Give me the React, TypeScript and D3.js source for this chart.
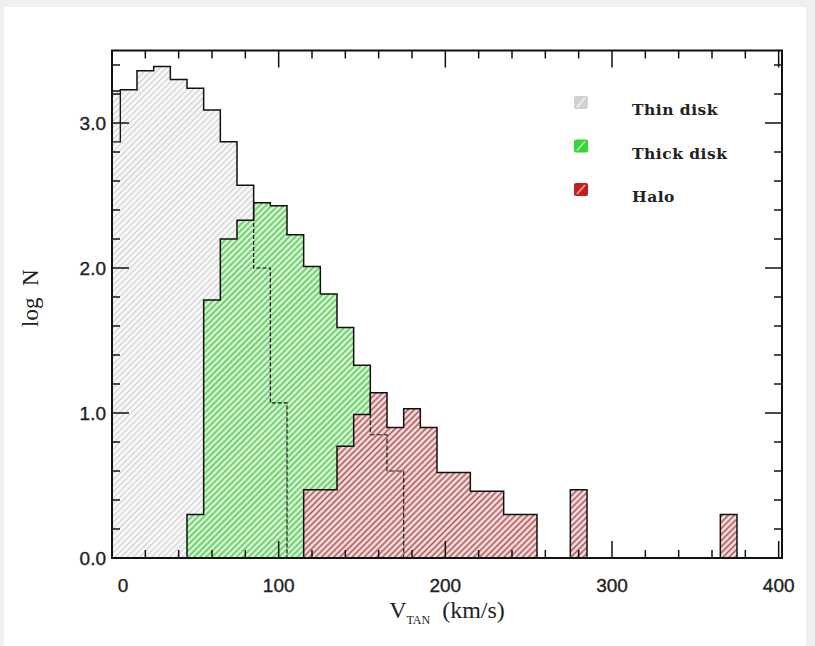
import React from "react";
import * as d3 from "d3";

// ---- data (bin centres in km/s, bin width 10 km/s; values are log N) ----
const binWidth = 10;
const thinDiskV = [0, 10, 20, 30, 40, 50, 60, 70, 80, 90, 100];
const thinDiskLogN = [3.22, 3.23, 3.36, 3.39, 3.3, 3.24, 3.09, 2.87, 2.57, 2.0, 1.07];
const thinDiskInnerStep = { v: 0, logN: 2.87 };

const thickDiskV = [50, 60, 70, 80, 90, 100, 110, 120, 130, 140, 150, 160, 170];
const thickDiskLogN = [0.3, 1.78, 2.2, 2.33, 2.45, 2.43, 2.23, 2.01, 1.82, 1.59, 1.33, 0.85, 0.6];

const haloV = [120, 130, 140, 150, 160, 170, 180, 190, 200, 210, 220, 230, 240, 250, 280, 370];
const haloLogN = [0.47, 0.47, 0.77, 0.99, 1.14, 0.9, 1.03, 0.9, 0.59, 0.59, 0.46, 0.46, 0.3, 0.3, 0.47, 0.3];

const xMajorTicks = [0, 100, 200, 300, 400];
const xTickLabels = ["0", "100", "200", "300", "400"];
const yMajorTicks = [0, 1, 2, 3];
const yTickLabels = ["0.0", "1.0", "2.0", "3.0"];
const legendLabels = ["Thin disk", "Thick disk", "Halo"];

const W = 815;
const H = 646;
const M = { left: 112, right: 782, top: 50.5, bottom: 558 };

const x = d3.scaleLinear().domain([0, 402]).range([M.left, M.right]);
const y = d3.scaleLinear().domain([0, 3.5]).range([M.bottom, M.top]);

function histPath(vs: number[], ns: number[]): string {
  const runs: { v: number; n: number }[][] = [];
  vs.forEach((v, i) => {
    const last = runs[runs.length - 1];
    if (last && Math.abs(v - last[last.length - 1].v - binWidth) < 1e-6) last.push({ v, n: ns[i] });
    else runs.push([{ v, n: ns[i] }]);
  });
  return runs
    .map((run) => {
      const p = d3.path();
      p.moveTo(x(run[0].v - binWidth / 2), y(0));
      run.forEach((b) => {
        p.lineTo(x(b.v - binWidth / 2), y(b.n));
        p.lineTo(x(b.v + binWidth / 2), y(b.n));
      });
      p.lineTo(x(run[run.length - 1].v + binWidth / 2), y(0));
      p.closePath();
      return p.toString();
    })
    .join(" ");
}

const series = [
  { key: "thin", v: thinDiskV, n: thinDiskLogN, fill: "#f8f8f8", stripe: "#cdcdcd", sw: 1.1, legFill: "#d2d2d2", legLine: "#f0f0f0" },
  { key: "thick", v: thickDiskV, n: thickDiskLogN, fill: "#dcf8d8", stripe: "#5cc95c", sw: 1.7, legFill: "#36d636", legLine: "#b4f4b4" },
  { key: "halo", v: haloV, n: haloLogN, fill: "#f7e0e0", stripe: "#ad5353", sw: 1.6, legFill: "#c41f1f", legLine: "#f5a0a0" },
];

export default function App() {
  const paths = series.map((s) => histPath(s.v, s.n));
  const xMinor = d3.range(0, 401, 20).filter((t) => t % 100 !== 0);
  const yMinor = d3.range(0, 3.41, 0.2).filter((t) => Math.abs(t - Math.round(t)) > 1e-6);
  const majorLen = 17;
  const minorLen = 8;
  const tickStroke = 1.5;
  const innerStep = d3.path();
  innerStep.moveTo(x(thinDiskInnerStep.v - binWidth / 2), y(thinDiskInnerStep.logN));
  innerStep.lineTo(x(thinDiskInnerStep.v + binWidth / 2), y(thinDiskInnerStep.logN));
  innerStep.lineTo(x(thinDiskInnerStep.v + binWidth / 2), y(thinDiskLogN[0]));

  return (
    <svg width={W} height={H} style={{ position: "absolute", left: 0, top: 0 }} xmlns="http://www.w3.org/2000/svg">
      <defs>
        {series.map((s) => (
          <pattern key={s.key} id={`hatch-${s.key}`} patternUnits="userSpaceOnUse" width={4.3} height={4.3} patternTransform="rotate(45)">
            <rect width={4.3} height={4.3} fill={s.fill} />
            <line x1={2.15} y1={0} x2={2.15} y2={4.3} stroke={s.stripe} strokeWidth={s.sw} />
          </pattern>
        ))}
        <clipPath id="plot">
          <rect x={M.left} y={M.top} width={M.right - M.left} height={M.bottom - M.top} />
        </clipPath>
        <clipPath id="coverThin">
          <path d={paths[1]} />
          <path d={paths[2]} />
        </clipPath>
        <mask id="outsideThin">
          <rect x={0} y={0} width={W} height={H} fill="white" />
          <path d={paths[1]} fill="black" />
          <path d={paths[2]} fill="black" />
        </mask>
        <clipPath id="coverThick">
          <path d={paths[2]} />
        </clipPath>
        <mask id="outsideThick">
          <rect x={0} y={0} width={W} height={H} fill="white" />
          <path d={paths[2]} fill="black" />
        </mask>
      </defs>

      <rect x={0} y={0} width={W} height={H} fill="#efefef" />
      <rect x={4} y={7} width={802} height={H - 7} fill="#ffffff" />

      <g clipPath="url(#plot)">
        {series.map((s, i) => (
          <path key={s.key} d={paths[i]} fill={`url(#hatch-${s.key})`} stroke="none" />
        ))}
        <g mask="url(#outsideThin)">
          <path d={paths[0]} fill="none" stroke="#111" strokeWidth={1.5} />
          <path d={innerStep.toString()} fill="none" stroke="#111" strokeWidth={1.3} />
        </g>
        <g clipPath="url(#coverThin)">
          <path d={paths[0]} fill="none" stroke="#111" strokeWidth={1.2} strokeDasharray="4,2" />
        </g>
        <g mask="url(#outsideThick)">
          <path d={paths[1]} fill="none" stroke="#111" strokeWidth={1.5} />
        </g>
        <g clipPath="url(#coverThick)">
          <path d={paths[1]} fill="none" stroke="#222" strokeWidth={1.2} strokeDasharray="5,2" />
        </g>
        <path d={paths[2]} fill="none" stroke="#111" strokeWidth={1.5} />
      </g>

      <g stroke="#111" strokeWidth={tickStroke}>
        {xMajorTicks.map((t) => (
          <g key={`xM${t}`}>
            <line x1={x(t)} x2={x(t)} y1={M.bottom} y2={M.bottom - majorLen} />
            <line x1={x(t)} x2={x(t)} y1={M.top} y2={M.top + majorLen} />
          </g>
        ))}
        {xMinor.map((t) => (
          <g key={`xm${t}`}>
            <line x1={x(t)} x2={x(t)} y1={M.bottom} y2={M.bottom - minorLen} />
            <line x1={x(t)} x2={x(t)} y1={M.top} y2={M.top + minorLen} />
          </g>
        ))}
        {yMajorTicks.map((t) => (
          <g key={`yM${t}`}>
            <line x1={M.left} x2={M.left + majorLen} y1={y(t)} y2={y(t)} />
            <line x1={M.right} x2={M.right - majorLen} y1={y(t)} y2={y(t)} />
          </g>
        ))}
        {yMinor.map((t) => (
          <g key={`ym${t.toFixed(1)}`}>
            <line x1={M.left} x2={M.left + minorLen} y1={y(t)} y2={y(t)} />
            <line x1={M.right} x2={M.right - minorLen} y1={y(t)} y2={y(t)} />
          </g>
        ))}
      </g>

      <rect x={M.left} y={M.top} width={M.right - M.left} height={M.bottom - M.top} fill="none" stroke="#111" strokeWidth={2} />

      <g fontFamily="'Liberation Sans', Arial, sans-serif" fontSize={19} fill="#222" stroke="#222" strokeWidth={0.35}>
        {yMajorTicks.map((t, i) => (
          <text key={`yl${t}`} x={106} y={y(t) + 7} textAnchor="end">
            {yTickLabels[i]}
          </text>
        ))}
        {xMajorTicks.map((t, i) => (
          <text key={`xl${t}`} x={x(t) + (i === 0 ? 11 : 0)} y={592} textAnchor="middle">
            {xTickLabels[i]}
          </text>
        ))}
      </g>

      <text
        fontFamily="'Liberation Serif', 'Times New Roman', serif"
        fontSize={23}
        fill="#222"
        textAnchor="middle"
        transform={`translate(38, ${(M.top + M.bottom) / 2 - 6}) rotate(-90)`}
        style={{ whiteSpace: "pre" }}
      >
        log  N
      </text>
      <text fontFamily="'Liberation Serif', 'Times New Roman', serif" fontSize={24} fill="#222" textAnchor="middle" x={447} y={618} style={{ whiteSpace: "pre" }}>
        <tspan>V</tspan>
        <tspan fontSize={12} dy={6}>TAN</tspan>
        <tspan dy={-6}>  (km/s)</tspan>
      </text>

      {series.map((s, i) => {
        const yy = 96 + i * 43.5;
        return (
          <g key={`leg-${s.key}`}>
            <rect x={574} y={yy} width={14} height={13} rx={2} fill={s.legFill} />
            <line x1={577} y1={yy + 11} x2={585} y2={yy + 2} stroke={s.legLine} strokeWidth={1.6} />
            <text x={632} y={yy + 19} fontFamily="'DejaVu Serif', serif" fontWeight="bold" fontSize={15.5} letterSpacing={0.5} fill="#222">
              {legendLabels[i]}
            </text>
          </g>
        );
      })}
    </svg>
  );
}
